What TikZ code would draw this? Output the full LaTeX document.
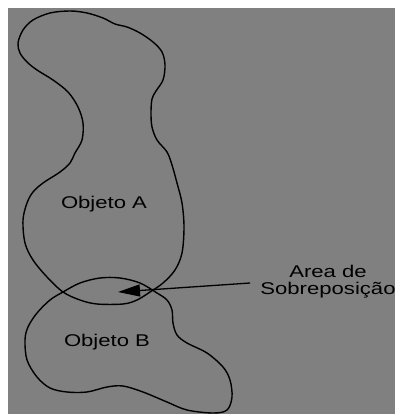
\documentclass[tikz,border=0pt]{standalone}
\usepackage{fontspec}
\setmainfont{Liberation Sans}
\usetikzlibrary{arrows.meta}
\definecolor{bggray}{RGB}{128,128,128}
\tikzset{
  outline/.style={draw=black, line width=1.4pt, line join=round},
  lbl/.style={font=\fontsize{17}{19}\selectfont, text=black, xscale=1.3, inner sep=0pt, align=center},
  pointer/.style={draw=black, line width=1.3pt, -{Triangle[length=22pt,width=12pt]}}
}
\begin{document}
\begin{tikzpicture}[x=1pt,y=-1pt]
\useasboundingbox (0,0) rectangle (395,414);
\fill[white] (0,0) rectangle (395,414);
\fill[bggray] (8,8) rectangle (395,414);
% Objeto A
\draw[outline] plot[smooth cycle, tension=0.55] coordinates {
(50,13) (70,11) (87,13) (103,18) (115,24) (127,27) (140,33) (153,42) (162,52) (165,65) (163,80) (156,91) (152,99) (151,113) (152,127) (157,140) (167,152) (172,165) (177,183) (182,203) (184,227) (182,253) (175,270) (163,283) (150,292) (137,300) (123,304) (97,304) (80,300) (63,292) (47,277) (33,260) (25,243) (23,220) (27,203) (33,192) (43,183) (60,172) (70,163) (75,153) (82,140) (83,123) (78,107) (68,92) (53,80) (37,70) (27,62) (20,53) (18,43) (23,30) (33,20)};
% Objeto B
\draw[outline] plot[smooth cycle, tension=0.55] coordinates {
(63,292) (80,283) (100,278) (120,278) (140,283) (157,293) (167,300) (172,310) (173,323) (177,335) (187,343) (207,353) (223,367) (230,380) (232,397) (227,410) (213,413) (187,410) (167,402) (143,392) (123,386) (107,387) (87,392) (67,392) (50,388) (37,377) (27,360) (25,340) (28,327) (37,313) (50,300)};
\node[lbl] (objA) at (104,204) {Objeto A};
\node[lbl] (objB) at (107,342) {Objeto B};
\node[lbl] (area) at (328,282) {Area de\\[-2pt]Sobreposição};
\coordinate (arrowstart) at (250,283);
\coordinate (arrowtip) at (118,292);
\draw[pointer] (arrowstart) -- (arrowtip);
\end{tikzpicture}
\end{document}
